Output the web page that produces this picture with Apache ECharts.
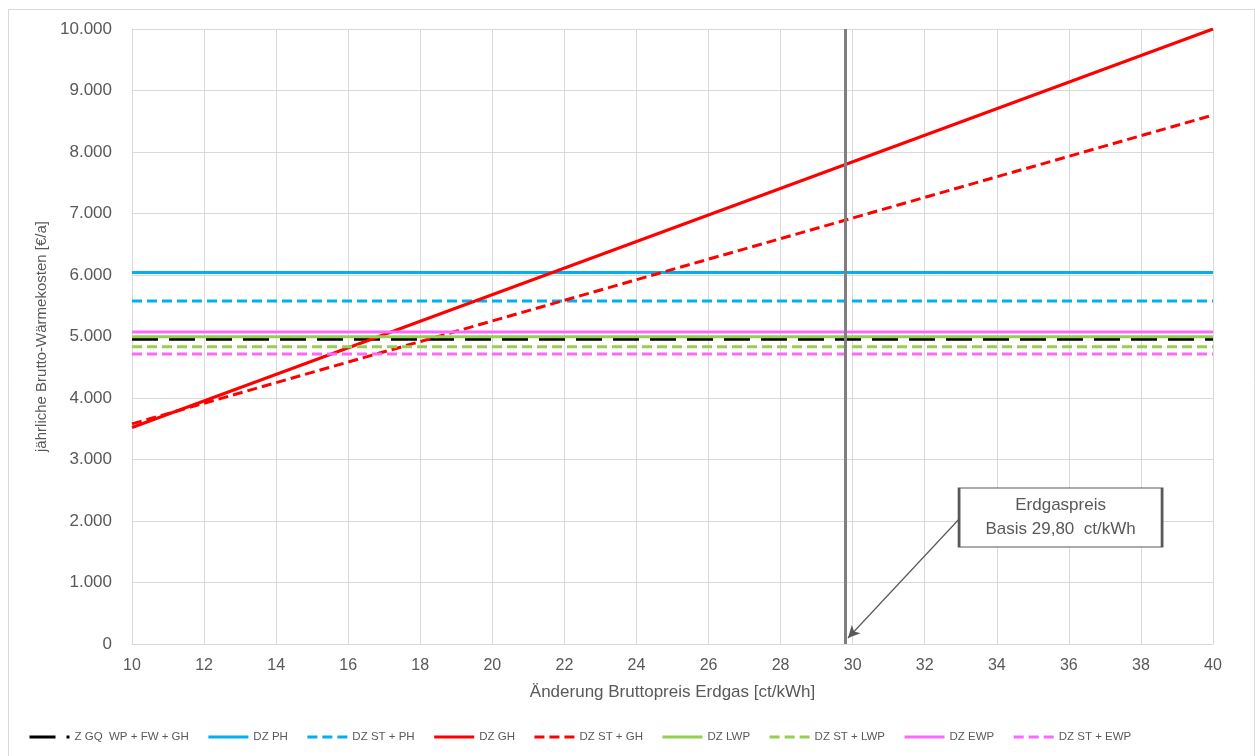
<!DOCTYPE html>
<html>
<head>
<meta charset="utf-8">
<script src="https://cdn.jsdelivr.net/npm/echarts@6/dist/echarts.min.js"></script>
<style>
html,body{margin:0;padding:0;background:#fff;}
#chart{width:1255px;height:756px;}
</style>
</head>
<body>
<div id="chart"></div>
<script>
// Price of natural gas (ct/kWh) – endpoints of the x range
const xValues = [10, 40];
const xTicks = [10, 12, 14, 16, 18, 20, 22, 24, 26, 28, 30, 32, 34, 36, 38, 40];
const yTicks = [0, 1000, 2000, 3000, 4000, 5000, 6000, 7000, 8000, 9000, 10000];

// Annual gross heating cost (€/a)
const zGQ    = [4954, 4954];
const dzPH   = [6040, 6040];
const dzSTPH = [5577, 5577];
const dzGH   = [3520, 10000];
const dzSTGH = [3580, 8600];
const dzLWP  = [4997, 4997];
const dzSTLWP= [4834, 4834];
const dzEWP  = [5073, 5073];
const dzSTEWP= [4715, 4715];

const seriesNames = ['Z GQ  WP + FW + GH','DZ PH','DZ ST + PH','DZ GH','DZ ST + GH','DZ LWP','DZ ST + LWP','DZ EWP','DZ ST + EWP'];
const seriesValues = [zGQ, dzPH, dzSTPH, dzGH, dzSTGH, dzLWP, dzSTLWP, dzEWP, dzSTEWP];

const basePrice = 29.8;
const annotationLines = ['Erdgaspreis', 'Basis 29,80  ct/kWh'];
const annotationAnchor = [35.77, 2057];
const arrowFrom = [32.93, 2016];
const arrowTo = [29.87, 98];

const styles = [
  {color:'#000000', type:[26,11]},
  {color:'#00b0f0', type:'solid'},
  {color:'#00b0f0', type:[10,5]},
  {color:'#ff0000', type:'solid'},
  {color:'#ff0000', type:[10,5]},
  {color:'#92d050', type:'solid'},
  {color:'#92d050', type:[10,5]},
  {color:'#ff66ff', type:'solid'},
  {color:'#ff66ff', type:[10,5]}
];

const fmt = v => String(v).replace(/\B(?=(\d{3})+(?!\d))/g, '.');

const series = seriesNames.map((n, i) => ({
  name: n,
  type: 'line',
  symbol: 'none',
  data: xValues.map((x, j) => [x, seriesValues[i][j]]),
  lineStyle: {color: styles[i].color, width: 3, type: styles[i].type, cap: 'butt'},
  itemStyle: {color: styles[i].color},
  z: 2
}));

series.push({
  name: 'Erdgaspreis',
  type: 'line',
  data: [],
  z: 5,
  markLine: {
    silent: true,
    symbol: ['none','none'],
    label: {show:false},
    lineStyle: {color:'#7f7f7f', width:3, type:'solid'},
    data: [{xAxis: basePrice}]
  }
});
series.push({
  name: 'Annotation',
  type: 'line',
  data: [],
  z: 6,
  markLine: {
    silent: true,
    symbol: ['none','arrow'],
    symbolSize: [9, 12],
    label: {show:false},
    lineStyle: {color:'#595959', width:1.2, type:'solid'},
    data: [[{coord: arrowFrom}, {coord: arrowTo}]]
  },
  markPoint: {
    silent: true,
    symbol: 'rect',
    symbolSize: [203, 59],
    itemStyle: {color:'#ffffff', borderColor:'#595959', borderWidth:1.5},
    label: {
      show: true, position: 'inside',
      formatter: annotationLines.join('\n'),
      color: '#595959', fontSize: 17, lineHeight: 24,
      fontFamily: 'Liberation Sans, Arial, sans-serif', align: 'center'
    },
    data: [{coord: annotationAnchor}]
  }
});

const chart = echarts.init(document.getElementById('chart'), null, {renderer:'canvas'});
chart.setOption({
  backgroundColor: '#ffffff',
  animation: false,
  graphic: [{
    type: 'rect', left: 6, top: 7, silent: true,
    shape: {width: 1246, height: 760},
    style: {fill: 'none', stroke: '#d9d9d9', lineWidth: 1},
    z: -10
  }],
  grid: {left: 132, top: 29, right: 42, bottom: 112, containLabel: false},
  legend: {
    data: seriesNames,
    left: 23, top: 726,
    itemWidth: 40, itemHeight: 10, itemGap: 18,
    itemStyle: {opacity: 0},
    lineStyle: {width: 3},
    textStyle: {fontSize: 11.5, color: '#595959', fontFamily: 'Liberation Sans Narrow, Arial Narrow, Liberation Sans, sans-serif'}
  },
  xAxis: {
    type: 'value', min: xTicks[0], max: xTicks[xTicks.length-1], interval: 2,
    name: 'Änderung Bruttopreis Erdgas [ct/kWh]',
    nameLocation: 'middle', nameGap: 40,
    nameTextStyle: {fontSize: 17, color: '#595959', fontFamily: 'Liberation Sans, Arial, sans-serif'},
    axisLine: {show: true, lineStyle: {color: '#d9d9d9', width: 1}},
    axisTick: {show: false},
    axisLabel: {fontSize: 16, color: '#595959', margin: 14, fontFamily: 'Liberation Sans, Arial, sans-serif'},
    splitLine: {show: true, lineStyle: {color: '#d9d9d9', width: 1}}
  },
  yAxis: {
    type: 'value', min: yTicks[0], max: yTicks[yTicks.length-1], interval: 1000,
    name: 'jährliche Brutto-Wärmekosten [€/a]',
    nameLocation: 'middle', nameGap: 77, nameRotate: 90,
    nameTextStyle: {fontSize: 15, color: '#595959', fontFamily: 'Liberation Sans, Arial, sans-serif'},
    axisLine: {show: true, lineStyle: {color: '#d9d9d9', width: 1}},
    axisTick: {show: false},
    axisLabel: {fontSize: 17, color: '#595959', margin: 20, formatter: fmt, fontFamily: 'Liberation Sans, Arial, sans-serif'},
    splitLine: {show: true, lineStyle: {color: '#d9d9d9', width: 1}}
  },
  series: series
});
</script>
</body>
</html>
